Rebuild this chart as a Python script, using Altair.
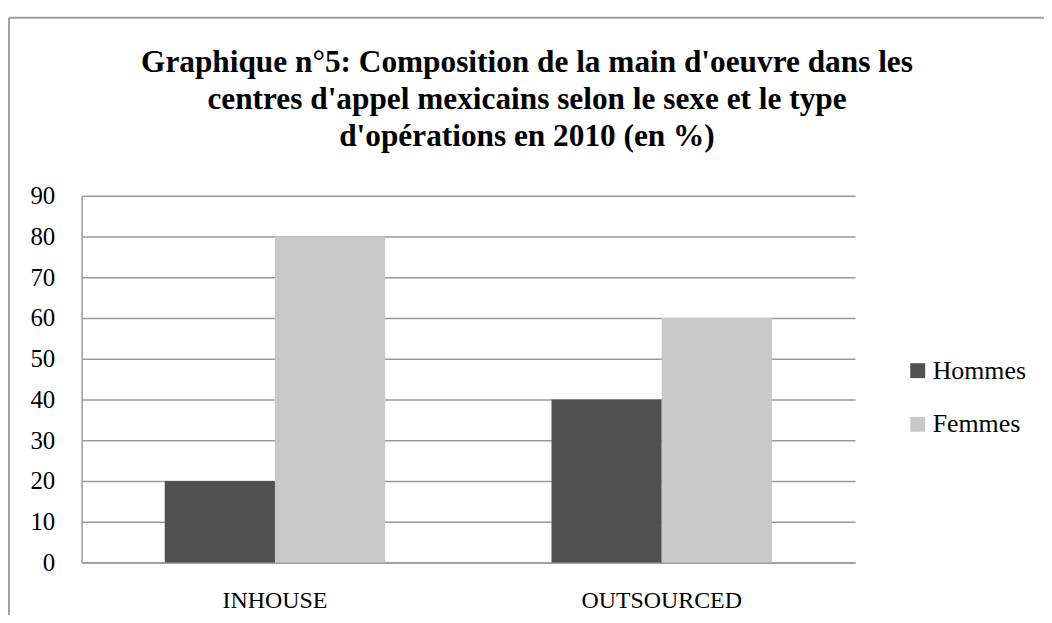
import altair as alt
import pandas as pd

categories = ["INHOUSE", "INHOUSE", "OUTSOURCED", "OUTSOURCED"]
series = ["Hommes", "Femmes", "Hommes", "Femmes"]
values = [20, 80, 40, 60]
y_ticks = [0, 10, 20, 30, 40, 50, 60, 70, 80, 90]
title_lines = [
    "Graphique n°5: Composition de la main d'oeuvre dans les",
    "centres d'appel mexicains selon le sexe et le type",
    "d'opérations en 2010 (en %)",
]

df = pd.DataFrame({"Type": categories, "Sexe": series, "Valeur": values})

bars = alt.Chart(df).mark_bar().encode(
    x=alt.X("Type:N", sort=["INHOUSE", "OUTSOURCED"],
            scale=alt.Scale(paddingInner=0.43, paddingOuter=0.215),
            axis=alt.Axis(title=None, labelAngle=0, ticks=False, domain=True,
                          domainColor="#9a9a9a", domainWidth=1.5,
                          labelFont="Liberation Serif", labelFontSize=24,
                          labelColor="#000000", labelPadding=26)),
    xOffset=alt.XOffset("Sexe:N", sort=["Hommes", "Femmes"],
                        scale=alt.Scale(paddingInner=0, paddingOuter=0)),
    y=alt.Y("Valeur:Q", scale=alt.Scale(domain=[0, 90], nice=False),
            axis=alt.Axis(title=None, values=y_ticks, ticks=False,
                          domain=True, domainColor="#9a9a9a", domainWidth=1.5,
                          grid=True, gridColor="#9a9a9a", gridWidth=1.5,
                          labelFont="Liberation Serif", labelFontSize=25,
                          labelColor="#000000", labelPadding=27)),
    color=alt.Color("Sexe:N", sort=["Hommes", "Femmes"],
                    scale=alt.Scale(domain=["Hommes", "Femmes"],
                                    range=["#505050", "#c8c8c8"]),
                    legend=alt.Legend(title=None, orient="none",
                                      legendX=828, legendY=163,
                                      symbolType="square", symbolSize=225,
                                      symbolStrokeWidth=0,
                                      labelFont="Liberation Serif",
                                      labelFontSize=26, labelColor="#000000",
                                      labelOffset=2, rowPadding=28)),
)

frame = pd.DataFrame({"k": [0]})
top_border = alt.Chart(frame).mark_rule(color="#a0a0a0", strokeWidth=2).encode(
    x=alt.value(-73), x2=alt.value(980), y=alt.value(-179))
left_border = alt.Chart(frame).mark_rule(color="#a0a0a0", strokeWidth=2).encode(
    x=alt.value(-73), y=alt.value(-179), y2=alt.value(440))

chart = alt.layer(bars, top_border, left_border).properties(
    width=778, height=369,
    autosize=alt.AutoSizeParams(type="none"),
    padding={"left": 74, "top": 187, "right": 190, "bottom": 51},
    title=alt.Title(title_lines, font="Liberation Serif", fontSize=31.5,
                    fontWeight="bold", color="#000000", anchor="middle",
                    lineHeight=37.5, dx=59, dy=167, offset=30),
).configure_view(stroke=None)

chart.save("out.html", embed_options={"renderer": "svg", "actions": False})
